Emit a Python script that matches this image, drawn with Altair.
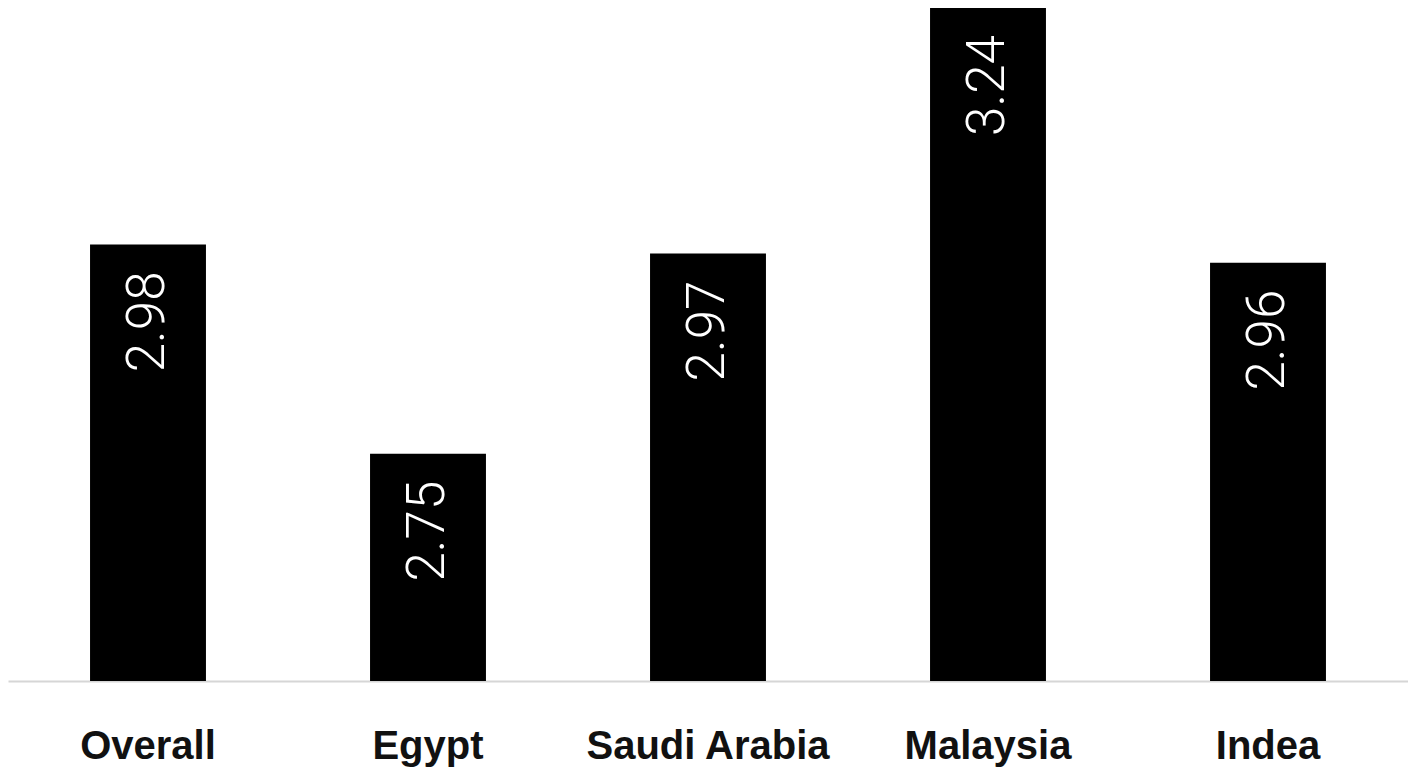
import altair as alt
import pandas as pd

categories = ["Overall", "Egypt", "Saudi Arabia", "Malaysia", "Indea"]
values = [2.98, 2.75, 2.97, 3.24, 2.96]
labels = ["2.98", "2.75", "2.97", "3.24", "2.96"]

df = pd.DataFrame({"cat": categories, "val": values, "lab": labels})

x = alt.X(
    "cat:N",
    sort=categories,
    title=None,
    scale=alt.Scale(paddingInner=0.586, paddingOuter=0.293),
    axis=alt.Axis(
        labelAngle=0,
        labelFont="Liberation Sans",
        labelFontSize=40,
        labelFontWeight="bold",
        labelColor="#111111",
        labelPadding=45,
        labelLimit=1000,
        ticks=False,
        domainColor="#d6d6d6",
        domainWidth=2,
        grid=False,
    ),
)
y = alt.Y("val:Q", scale=alt.Scale(domain=[2.5, 3.24], zero=False, nice=False), axis=None)

bars = alt.Chart(df).mark_bar(color="black").encode(x=x, y=y, y2=alt.datum(2.5))
text = alt.Chart(df).mark_text(
    angle=270,
    align="right",
    baseline="middle",
    dx=-27,
    font="Roboto",
    fontWeight=300,
    fontSize=53,
    color="white",
).encode(x=x, y=y, text="lab:N")

chart = (
    alt.layer(bars, text)
    .properties(
        width=1400,
        height=673,
        padding={"left": 0, "top": 0, "right": 0, "bottom": 5},
        view=alt.ViewBackground(stroke=None, strokeWidth=0),
    )
    .configure_view(strokeWidth=0, stroke=None)
    .configure(background="white")
)

chart.save("out.html", embed_options={"renderer": "svg", "actions": False})
